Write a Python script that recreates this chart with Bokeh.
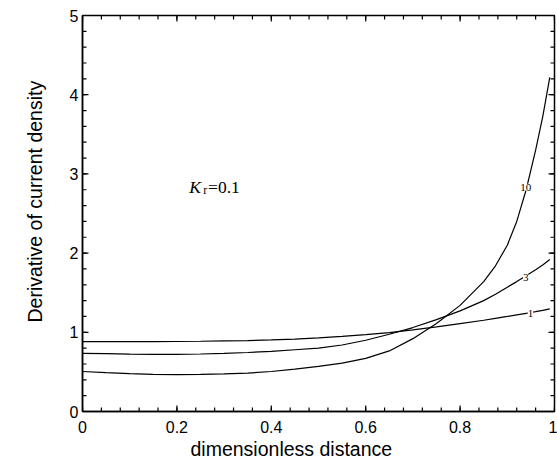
from bokeh.plotting import figure
from bokeh.models import LabelSet, Label, ColumnDataSource, FixedTicker, Title
from bokeh.embed import file_html
from bokeh.resources import INLINE

# ---------------- data ----------------
x_vals = [0, 0.05, 0.1, 0.15, 0.2, 0.25, 0.3, 0.35, 0.4, 0.45, 0.5, 0.55, 0.6,
          0.65, 0.7, 0.75, 0.8, 0.85, 0.875, 0.9, 0.92, 0.94, 0.96, 0.975, 0.99]
curve_1 = [0.883, 0.882, 0.882, 0.883, 0.884, 0.887, 0.891, 0.896, 0.905, 0.915,
           0.930, 0.948, 0.970, 0.997, 1.030, 1.068, 1.110, 1.152, 1.176, 1.200,
           1.220, 1.240, 1.260, 1.277, 1.295]
curve_3 = [0.735, 0.730, 0.725, 0.722, 0.722, 0.726, 0.733, 0.745, 0.760, 0.780,
           0.800, 0.840, 0.900, 0.975, 1.060, 1.160, 1.270, 1.400, 1.480, 1.570,
           1.640, 1.715, 1.790, 1.850, 1.920]
curve_10 = [0.505, 0.490, 0.478, 0.470, 0.466, 0.468, 0.474, 0.485, 0.505, 0.535,
            0.570, 0.610, 0.670, 0.765, 0.920, 1.110, 1.340, 1.640, 1.840, 2.100,
            2.400, 2.800, 3.300, 3.720, 4.220]

curve_labels = ["1", "3", "10"]
curve_label_x = [0.949, 0.939, 0.939]
curve_label_y = [1.24, 1.69, 2.83]

x_ticks = [0, 0.2, 0.4, 0.6, 0.8, 1]
x_tick_labels = ["0", "0.2", "0.4", "0.6", "0.8", "1"]
y_ticks = [0, 1, 2, 3, 4, 5]
y_tick_labels = ["0", "1", "2", "3", "4", "5"]
x_minor = [round(i * 0.04, 2) for i in range(26)]
y_minor = [round(i * 0.2, 1) for i in range(26)]

x_title = "dimensionless distance"
y_title = "Derivative of current density"

# ---------------- figure ----------------
W, H = 557, 461
BL, BR, BT, BB = 81, 3, 15, 50
X0, X1, Y0, Y1 = 0, 1, 0, 5
p = figure(width=W, height=H, x_range=(X0, X1), y_range=(Y0, Y1),
           output_backend="svg", toolbar_location=None,
           min_border_left=BL, min_border_right=BR, min_border_top=BT,
           min_border_bottom=BB)
p.background_fill_color = "white"
p.border_fill_color = "white"
p.grid.visible = False
p.outline_line_color = "black"
p.outline_line_width = 1.5

def style(ax):
    ax.axis_line_color = "black"
    ax.axis_line_width = 1.5
    ax.major_tick_in = 0
    ax.major_tick_out = 0
    ax.minor_tick_in = 0
    ax.minor_tick_out = 0
    ax.major_label_text_font = "Liberation Sans"
    ax.major_label_text_font_size = "16px"
    ax.major_label_text_color = "black"

xa = p.xaxis[0]
xa.ticker = FixedTicker(ticks=x_ticks, minor_ticks=x_minor)
xa.major_label_overrides = dict(zip(x_ticks, x_tick_labels))
style(xa)
xa.major_label_standoff = 9

ya = p.yaxis[0]
ya.ticker = FixedTicker(ticks=y_ticks, minor_ticks=y_minor)
ya.major_label_overrides = dict(zip(y_ticks, y_tick_labels))
style(ya)
ya.major_label_standoff = 4

# inward tick marks on all four sides, as one multi-line
fw = W - BL - BR
fh = H - BT - BB
dx = (X1 - X0) / fw
dy = (Y1 - Y0) / fh
tick_xs, tick_ys = [], []
for vals, n in ((y_ticks, 6), (y_minor, 4)):
    for v in vals:
        tick_xs += [[X0, X0 + n * dx], [X1, X1 - n * dx]]
        tick_ys += [[v, v], [v, v]]
for vals, n in ((x_ticks, 6), (x_minor, 4)):
    for v in vals:
        tick_xs += [[v, v], [v, v]]
        tick_ys += [[Y0, Y0 + n * dy], [Y1, Y1 - n * dy]]
p.multi_line(tick_xs, tick_ys, line_color="black", line_width=1.2)

# ---------------- curves ----------------
for ys in (curve_1, curve_3, curve_10):
    p.line(x_vals, ys, line_color="black", line_width=1.2)

src = ColumnDataSource(dict(x=curve_label_x, y=curve_label_y, t=curve_labels))
p.add_layout(LabelSet(x="x", y="y", text="t", source=src,
                      text_align="center", text_baseline="middle",
                      text_font="Liberation Sans", text_font_size="11px",
                      text_color="black",
                      background_fill_color="white"))

# K_r = 0.1 annotation
p.add_layout(Label(x=0.226, y=2.832, text="K", text_font="Liberation Serif",
                   text_font_style="italic", text_font_size="17.5px",
                   text_baseline="alphabetic", text_color="black"))
p.add_layout(Label(x=0.256, y=2.795, text="r", text_font="Liberation Serif",
                   text_font_size="12px", text_baseline="alphabetic",
                   text_color="black"))
p.add_layout(Label(x=0.266, y=2.832, text="=0.1", text_font="Liberation Serif",
                   text_font_size="17.5px", text_baseline="alphabetic",
                   text_color="black"))

# axis titles (as titles so that they can sit off-centre like the original)
tx = Title(text=x_title, align="left", offset=108, standoff=0,
           text_font="Liberation Sans", text_font_size="19.5px",
           text_font_style="normal", text_color="black")
p.add_layout(tx, "below")
ty = Title(text=y_title, align="left", offset=73, padding=16,
           text_font="Liberation Sans", text_font_size="19.5px",
           text_font_style="normal", text_color="black")
p.add_layout(ty, "left")

open("out.html", "w").write(file_html(p, INLINE))
